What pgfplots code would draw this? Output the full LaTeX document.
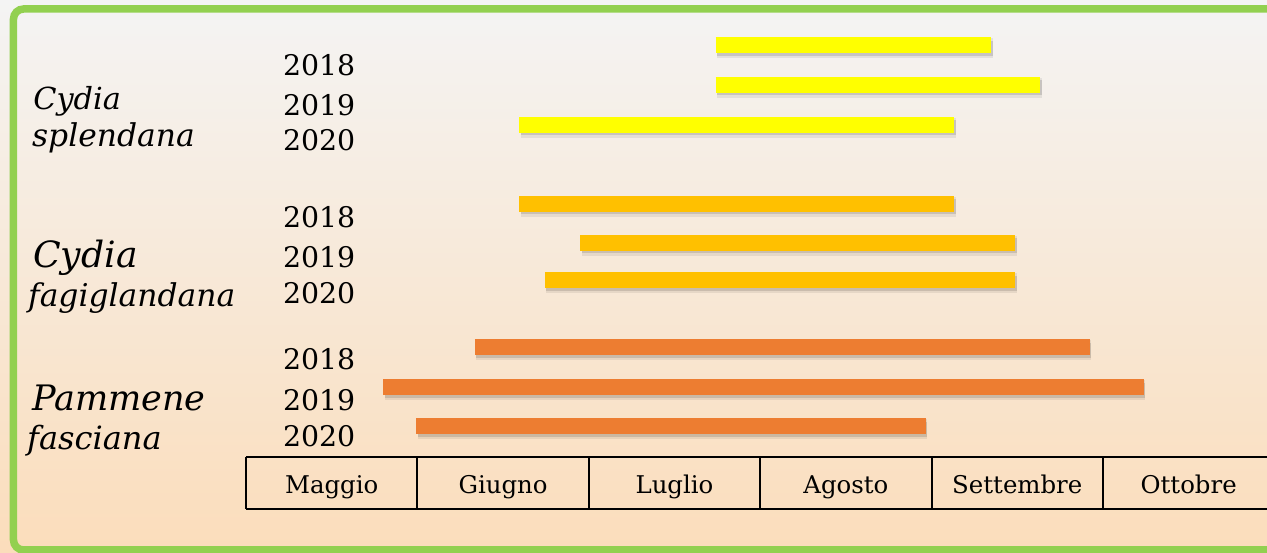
\documentclass[border=0pt]{standalone}
\usepackage{fontspec}
\setmainfont{DejaVu Serif}
\usepackage{pgfplots}
\pgfplotsset{compat=1.18}
\definecolor{cyellow}{RGB}{255,255,0}
\definecolor{camber}{RGB}{255,192,0}
\definecolor{corange}{RGB}{237,125,49}
\definecolor{cgreen}{RGB}{146,208,80}
\definecolor{bgtop}{RGB}{244,244,244}
\definecolor{bgbot}{RGB}{251,221,187}
\newcommand\yf{\fontsize{28.5}{32}\selectfont}
\newcommand\mf{\fontsize{24.5}{28}\selectfont}
\begin{document}
\begin{tikzpicture}
\begin{axis}[
  scale only axis, width=1267bp, height=553bp,
  xmin=-1.4352, xmax=5.957, ymin=0, ymax=553, y dir=reverse,
  hide axis, clip=false,
  bar/.style={line width=16bp, line cap=butt, no marks,
    preaction={draw=black, opacity=0.07, line width=20bp,
      transform canvas={xshift=1.5bp,yshift=-3bp}},
    preaction={draw=black, opacity=0.12, line width=15bp,
      transform canvas={xshift=1.5bp,yshift=-3bp}}},
]
% background and frame
\fill[top color=bgtop, bottom color=bgbot] (axis cs:-1.4352,0) rectangle (axis cs:5.957,553);
\draw[cgreen, line width=7.5bp, rounded corners=10bp]
  (axis cs:6.5,9) -- (axis cs:-1.3565,9) -- (axis cs:-1.3565,550) -- (axis cs:6.5,550);

% Cydia splendana
\addplot[bar, color=cyellow] coordinates {(2.740,45.5) (4.347,45.5)};
\addplot[bar, color=cyellow] coordinates {(2.740,85) (4.634,85)};
\addplot[bar, color=cyellow] coordinates {(1.595,125) (4.131,125)};
% Cydia fagiglandana
\addplot[bar, color=camber] coordinates {(1.595,204) (4.131,204)};
\addplot[bar, color=camber] coordinates {(1.949,243) (4.487,243)};
\addplot[bar, color=camber] coordinates {(1.744,280.3) (4.487,280.3)};
% Pammene fasciana
\addplot[bar, color=corange] coordinates {(1.336,347.5) (4.922,347.5)};
\addplot[bar, color=corange] coordinates {(0.801,387.3) (5.237,387.3)};
\addplot[bar, color=corange] coordinates {(0.992,426.5) (3.966,426.5)};

% month table
\draw[line width=2bp] (axis cs:0,457) -- (axis cs:6.2,457);
\draw[line width=2bp] (axis cs:0,509) -- (axis cs:6.2,509);
\draw[line width=2bp] (axis cs:0,457) -- (axis cs:0,509);
\draw[line width=2bp] (axis cs:1,457) -- (axis cs:1,509);
\draw[line width=2bp] (axis cs:2,457) -- (axis cs:2,509);
\draw[line width=2bp] (axis cs:3,457) -- (axis cs:3,509);
\draw[line width=2bp] (axis cs:4,457) -- (axis cs:4,509);
\draw[line width=2bp] (axis cs:5,457) -- (axis cs:5,509);
\node[anchor=base, inner sep=0, font=\mf] at (axis cs:0.5,493.3) {Maggio};
\node[anchor=base, inner sep=0, font=\mf] at (axis cs:1.5,493.3) {Giugno};
\node[anchor=base, inner sep=0, font=\mf] at (axis cs:2.5,493.3) {Luglio};
\node[anchor=base, inner sep=0, font=\mf] at (axis cs:3.5,493.3) {Agosto};
\node[anchor=base, inner sep=0, font=\mf] at (axis cs:4.5,493.3) {Settembre};
\node[anchor=base, inner sep=0, font=\mf] at (axis cs:5.5,493.3) {Ottobre};

% years
\node[anchor=base west, inner sep=0, font=\yf] at (axis cs:0.215,76) {2018};
\node[anchor=base west, inner sep=0, font=\yf] at (axis cs:0.215,115.7) {2019};
\node[anchor=base west, inner sep=0, font=\yf] at (axis cs:0.215,151) {2020};
\node[anchor=base west, inner sep=0, font=\yf] at (axis cs:0.215,227.7) {2018};
\node[anchor=base west, inner sep=0, font=\yf] at (axis cs:0.215,267.3) {2019};
\node[anchor=base west, inner sep=0, font=\yf] at (axis cs:0.215,303.3) {2020};
\node[anchor=base west, inner sep=0, font=\yf] at (axis cs:0.215,370) {2018};
\node[anchor=base west, inner sep=0, font=\yf] at (axis cs:0.215,411) {2019};
\node[anchor=base west, inner sep=0, font=\yf] at (axis cs:0.215,446.7) {2020};

% species
\node[anchor=base west, inner sep=0, font=\fontsize{30.5}{34}\selectfont\itshape] at (axis cs:-1.242,110) {Cydia};
\node[anchor=base west, inner sep=0, font=\fontsize{31.5}{34}\selectfont\itshape] at (axis cs:-1.249,146.7) {splendana};
\node[anchor=base west, inner sep=0, font=\fontsize{36.3}{40}\selectfont\itshape] at (axis cs:-1.242,267.3) {Cydia};
\node[anchor=base west, inner sep=0, font=\fontsize{31.5}{34}\selectfont\itshape] at (axis cs:-1.272,306.7) {fagiglandana};
\node[anchor=base west, inner sep=0, font=\fontsize{35.2}{38}\selectfont\itshape] at (axis cs:-1.249,410.7) {Pammene};
\node[anchor=base west, inner sep=0, font=\fontsize{32.2}{36}\selectfont\itshape] at (axis cs:-1.278,450) {fasciana};
\end{axis}
\pgfresetboundingbox
\path[use as bounding box] (current axis.south west) rectangle (current axis.north east);
\end{tikzpicture}
\end{document}
